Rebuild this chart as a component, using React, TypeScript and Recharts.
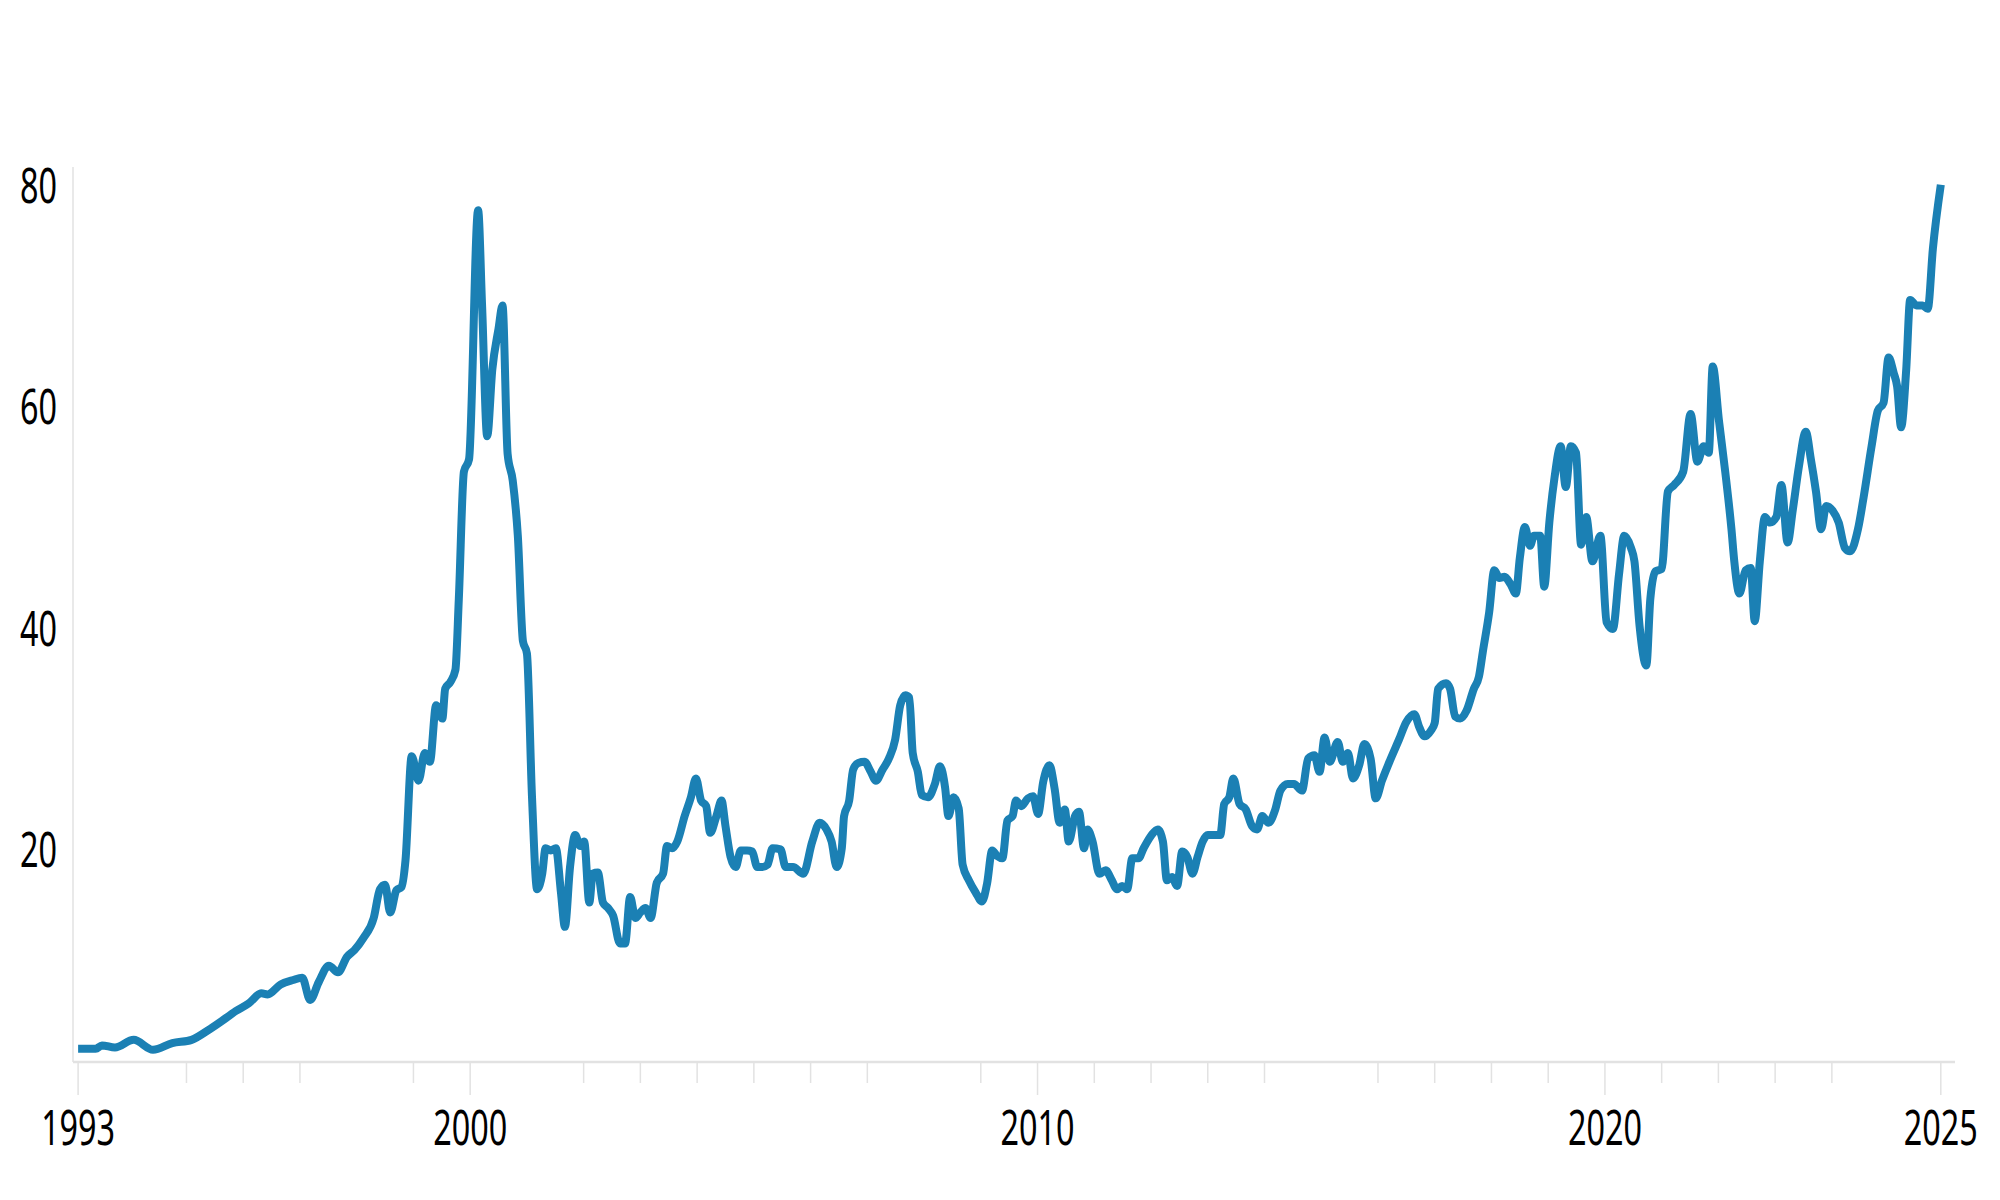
import React from "react";
import { LineChart, Line, XAxis, YAxis } from "recharts";

// decimal year of each reading
const dates = [
    1993.09, 1993.4, 1993.51, 1993.74, 1994.07, 1994.41, 1994.75, 1995.09, 1995.42, 1995.76,
    1995.87, 1996.1, 1996.32, 1996.43, 1996.66, 1996.88, 1997.04, 1997.18, 1997.33, 1997.51,
    1997.67, 1997.83, 1997.96, 1998.12, 1998.3, 1998.41, 1998.5, 1998.59, 1998.7, 1998.79,
    1998.86, 1998.97, 1999.09, 1999.2, 1999.29, 1999.4, 1999.51, 1999.56, 1999.65, 1999.74,
    1999.8, 1999.89, 1999.98, 2000.14, 2000.21, 2000.3, 2000.39, 2000.5, 2000.57, 2000.66,
    2000.75, 2000.84, 2000.93, 2001.0, 2001.09, 2001.18, 2001.27, 2001.33, 2001.42, 2001.51,
    2001.6, 2001.67, 2001.76, 2001.85, 2001.94, 2002.01, 2002.1, 2002.16, 2002.25, 2002.34,
    2002.43, 2002.52, 2002.64, 2002.73, 2002.82, 2002.91, 2003.0, 2003.09, 2003.18, 2003.29,
    2003.4, 2003.47, 2003.56, 2003.65, 2003.78, 2003.89, 2003.98, 2004.07, 2004.16, 2004.23,
    2004.34, 2004.43, 2004.5, 2004.59, 2004.68, 2004.77, 2004.88, 2004.97, 2005.06, 2005.15,
    2005.24, 2005.33, 2005.47, 2005.56, 2005.69, 2005.87, 2006.03, 2006.16, 2006.28, 2006.37,
    2006.46, 2006.55, 2006.59, 2006.68, 2006.75, 2006.84, 2006.95, 2007.06, 2007.15, 2007.27,
    2007.38, 2007.49, 2007.58, 2007.67, 2007.74, 2007.8, 2007.89, 2007.96, 2008.07, 2008.19,
    2008.28, 2008.37, 2008.43, 2008.52, 2008.61, 2008.68, 2008.79, 2008.91, 2009.02, 2009.11,
    2009.2, 2009.29, 2009.38, 2009.47, 2009.56, 2009.62, 2009.71, 2009.83, 2009.92, 2010.01,
    2010.1, 2010.21, 2010.3, 2010.39, 2010.48, 2010.55, 2010.66, 2010.73, 2010.82, 2010.88,
    2010.97, 2011.09, 2011.2, 2011.31, 2011.4, 2011.49, 2011.58, 2011.67, 2011.78, 2011.87,
    2012.01, 2012.12, 2012.21, 2012.28, 2012.37, 2012.46, 2012.55, 2012.64, 2012.73, 2012.82,
    2012.91, 2013.0, 2013.11, 2013.22, 2013.29, 2013.38, 2013.45, 2013.56, 2013.67, 2013.78,
    2013.87, 2013.96, 2014.07, 2014.19, 2014.28, 2014.41, 2014.52, 2014.66, 2014.77, 2014.88,
    2014.97, 2015.06, 2015.15, 2015.29, 2015.38, 2015.47, 2015.56, 2015.67, 2015.76, 2015.87,
    2015.96, 2016.07, 2016.21, 2016.37, 2016.5, 2016.64, 2016.73, 2016.82, 2016.93, 2017.0,
    2017.06, 2017.2, 2017.27, 2017.36, 2017.45, 2017.56, 2017.69, 2017.78, 2017.85, 2017.96,
    2018.05, 2018.14, 2018.23, 2018.34, 2018.43, 2018.5, 2018.59, 2018.68, 2018.75, 2018.86,
    2018.93, 2019.02, 2019.11, 2019.22, 2019.31, 2019.4, 2019.49, 2019.58, 2019.67, 2019.78,
    2019.92, 2020.03, 2020.14, 2020.25, 2020.34, 2020.46, 2020.52, 2020.61, 2020.73, 2020.8,
    2020.89, 2021.0, 2021.11, 2021.22, 2021.38, 2021.51, 2021.63, 2021.74, 2021.83, 2021.9,
    2022.01, 2022.12, 2022.23, 2022.28, 2022.37, 2022.48, 2022.57, 2022.64, 2022.73, 2022.82,
    2022.91, 2023.02, 2023.11, 2023.22, 2023.31, 2023.42, 2023.54, 2023.63, 2023.72, 2023.81,
    2023.9, 2024.01, 2024.12, 2024.23, 2024.32, 2024.46, 2024.56, 2024.7, 2024.81, 2024.91,
    2025.0, 2025.09, 2025.15, 2025.22, 2025.31, 2025.38, 2025.49, 2025.6, 2025.69, 2025.78,
    2025.92,
];

// price per share, USD
const prices = [
    2.1, 2.1, 2.4, 2.2, 2.9, 2.0, 2.6, 2.9, 3.9, 5.1,
    5.5, 6.2, 7.1, 7.0, 7.9, 8.3, 8.5, 6.5, 8.1, 9.6,
    9.0, 10.4, 11.0, 12.1, 13.9, 16.5, 16.9, 14.4, 16.4, 16.7,
    19.1, 28.5, 26.3, 28.8, 28.0, 33.1, 31.9, 34.6, 35.2, 36.3,
    42.7, 54.2, 55.3, 77.8, 69.2, 57.4, 63.4, 67.1, 69.2, 55.8,
    53.4, 48.4, 38.9, 37.8, 24.8, 16.5, 17.9, 20.2, 20.0, 20.2,
    16.2, 13.1, 18.5, 21.4, 20.4, 20.8, 15.3, 17.9, 18.0, 15.3,
    14.8, 14.1, 11.6, 11.6, 15.8, 13.9, 14.4, 14.8, 13.9, 17.1,
    17.9, 20.4, 20.2, 20.8, 23.1, 24.8, 26.5, 24.5, 24.0, 21.6,
    23.1, 24.5, 22.2, 19.4, 18.5, 20.0, 20.0, 19.9, 18.5, 18.5,
    18.7, 20.2, 20.1, 18.5, 18.5, 17.9, 20.8, 22.5, 21.9, 20.8,
    18.5, 20.2, 23.1, 24.5, 27.3, 27.9, 28.0, 27.1, 26.3, 27.3,
    28.3, 30.0, 33.1, 34.0, 33.8, 28.8, 27.1, 25.0, 24.8, 26.0,
    27.6, 25.7, 23.1, 24.8, 23.8, 18.7, 17.3, 16.2, 15.4, 17.0,
    20.0, 19.5, 19.3, 22.7, 23.1, 24.5, 24.0, 24.7, 24.9, 23.3,
    26.2, 27.7, 25.6, 22.5, 23.7, 20.8, 23.1, 23.5, 20.2, 21.9,
    20.8, 17.9, 18.2, 17.3, 16.5, 16.8, 16.5, 19.3, 19.3, 20.2,
    21.4, 21.9, 20.8, 17.3, 17.6, 16.8, 19.9, 19.4, 17.9, 19.4,
    20.8, 21.4, 21.4, 21.4, 24.2, 24.8, 26.5, 24.2, 23.7, 22.2,
    21.9, 23.1, 22.5, 23.7, 25.4, 26.0, 26.0, 25.4, 28.3, 28.6,
    27.1, 30.2, 28.0, 29.8, 28.0, 28.8, 26.5, 27.7, 29.6, 28.3,
    24.7, 26.3, 28.1, 30.0, 31.6, 32.3, 31.1, 30.3, 30.8, 31.5,
    34.6, 35.1, 34.6, 32.1, 31.9, 32.6, 34.6, 35.7, 38.0, 41.5,
    45.3, 44.6, 44.7, 44.0, 43.2, 46.4, 49.2, 47.5, 48.4, 48.4,
    43.8, 49.6, 53.6, 56.5, 52.8, 56.5, 55.9, 47.6, 50.1, 46.1,
    48.4, 40.6, 40.0, 45.0, 48.4, 47.3, 46.1, 40.3, 36.7, 42.7,
    45.2, 45.4, 52.4, 53.0, 54.2, 59.4, 55.1, 56.5, 55.9, 63.7,
    58.8, 54.2, 49.0, 46.1, 43.2, 45.3, 45.5, 40.7, 46.1, 50.1,
    49.6, 50.1, 53.0, 47.8, 50.7, 54.7, 57.8, 55.3, 52.4, 49.0,
    51.1, 50.7, 49.6, 47.3, 47.0, 49.0, 51.9, 56.5, 59.7, 60.4,
    64.5, 63.1, 61.9, 58.2, 63.4, 69.7, 69.2, 69.2, 68.9, 74.3,
    80.1,
];

const yTicks = [20, 40, 60, 80];

const majorTicks = [1993.09, 2000, 2010, 2020, 2025.92];
const majorLabels = ["1993", "2000", "2010", "2020", "2025"];
const minorTicks = [
    1995, 1996, 1997, 1999, 2002, 2003, 2004, 2005, 2006, 2007, 2009,
    2011, 2012, 2013, 2014, 2016, 2017, 2018, 2019, 2021, 2022, 2023, 2024,
];

const LINE_COLOR = "#1b80b4";
const AXIS_COLOR = "#e2e2e2";
const FONT = "'Noto Sans', 'DejaVu Sans', sans-serif";

const data = dates.map((t, i) => ({ t, v: prices[i] }));

// eslint-disable-next-line @typescript-eslint/no-explicit-any
function YearTick({ x, y, payload }: any) {
    const idx = majorTicks.indexOf(payload.value);
    const major = idx >= 0;
    return (
        <g>
            <line x1={x} x2={x} y1={y} y2={y + (major ? 33 : 21)} stroke={AXIS_COLOR} strokeWidth={1.5} />
            {major && (
                <text
                    transform={`translate(${x},${y + 83}) scale(0.66,1)`}
                    textAnchor="middle"
                    fontFamily={FONT}
                    fontSize={49}
                    fill="#000"
                >
                    {majorLabels[idx]}
                </text>
            )}
        </g>
    );
}

// eslint-disable-next-line @typescript-eslint/no-explicit-any
function ValueTick({ x, y, payload }: any) {
    return (
        <text
            transform={`translate(${x - 16},${y + 17}) scale(0.66,1)`}
            textAnchor="end"
            fontFamily={FONT}
            fontSize={49}
            fill="#000"
        >
            {payload.value}
        </text>
    );
}

export default function App() {
    return (
        <div style={{ position: "absolute", left: 0, top: 0, width: 2000, height: 1200, background: "#fff" }}>
            <LineChart
                width={2000}
                height={1200}
                data={data}
                margin={{ top: 167, right: 45, left: 0, bottom: 0 }}
            >
                <XAxis
                    dataKey="t"
                    type="number"
                    domain={[1993.0, 2026.17]}
                    ticks={[...majorTicks, ...minorTicks].sort((a, b) => a - b)}
                    interval={0}
                    height={138}
                    tickSize={0}
                    tickMargin={0}
                    tickLine={false}
                    axisLine={{ stroke: AXIS_COLOR, strokeWidth: 2.5 }}
                    tick={<YearTick />}
                    allowDataOverflow
                />
                <YAxis
                    type="number"
                    domain={[0.9, 81.7]}
                    ticks={yTicks}
                    width={73}
                    tickSize={0}
                    tickMargin={0}
                    tickLine={false}
                    axisLine={{ stroke: AXIS_COLOR, strokeWidth: 1.5 }}
                    tick={<ValueTick />}
                    allowDataOverflow
                />
                <Line
                    type="monotone"
                    dataKey="v"
                    stroke={LINE_COLOR}
                    strokeWidth={8}
                    strokeLinejoin="round"
                    dot={false}
                    isAnimationActive={false}
                />
            </LineChart>
        </div>
    );
}
